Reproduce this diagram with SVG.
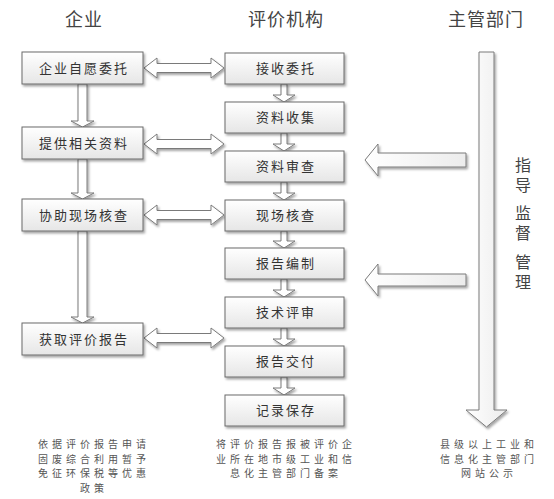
<svg xmlns="http://www.w3.org/2000/svg" width="554" height="499" viewBox="0 0 554 499">
<defs>
<linearGradient id="boxg" x1="0" y1="0" x2="0" y2="1">
<stop offset="0" stop-color="#ffffff"/>
<stop offset="1" stop-color="#e6e6e6"/>
</linearGradient>
<linearGradient id="arrg" x1="0" y1="0" x2="1" y2="0">
<stop offset="0" stop-color="#ffffff"/>
<stop offset="1" stop-color="#ececec"/>
</linearGradient>
<filter id="sh" x="-10%" y="-10%" width="130%" height="140%">
<feDropShadow dx="1.5" dy="2" stdDeviation="1.2" flood-color="#000" flood-opacity="0.35"/>
</filter>
</defs>
<style>
.box{fill:url(#boxg);stroke:#6a6a6a;stroke-width:1;filter:url(#sh)}
.arr{fill:#ffffff;stroke:#7a7a7a;stroke-width:1;filter:url(#sh)}
.big{fill:url(#arrg);stroke:#7a7a7a;stroke-width:1;filter:url(#sh)}
.t{font-family:"Noto Sans CJK SC","Noto Sans CJK JP",sans-serif;fill:#333;text-anchor:middle}
.bt{font-size:13px;letter-spacing:2px}
.hd{font-size:18px;letter-spacing:1px;fill:#444}
.vt{font-size:16px;fill:#444;writing-mode:vertical-rl;text-anchor:start;letter-spacing:3.5px}
.nt{font-size:10px;letter-spacing:4px;fill:#555}
</style>
<rect width="554" height="499" fill="#ffffff"/>

<g id="headers">
<text class="t hd" x="84" y="26">企业</text>
<text class="t hd" x="286" y="26">评价机构</text>
<text class="t hd" x="486" y="26">主管部门</text>
</g>

<g id="connectors">
<!-- left column down arrows -->
<polygon class="arr" points="78,84 78,121 71,121 82.5,127 94,121 87,121 87,84"/>
<polygon class="arr" points="78,159 78,193 71,193 82.5,199 94,193 87,193 87,159"/>
<polygon class="arr" points="78,231 78,317 71,317 82.5,323 94,317 87,317 87,231"/>
<!-- middle column down arrows -->
<polygon class="arr" points="281,84 281,95 273,95 284,102 295,95 287,95 287,84"/>
<polygon class="arr" points="281,133 281,144 273,144 284,151 295,144 287,144 287,133"/>
<polygon class="arr" points="281,182 281,193 273,193 284,200 295,193 287,193 287,182"/>
<polygon class="arr" points="281,231 281,241 273,241 284,248 295,241 287,241 287,231"/>
<polygon class="arr" points="281,279 281,290 273,290 284,297 295,290 287,290 287,279"/>
<polygon class="arr" points="281,328 281,339 273,339 284,346 295,339 287,339 287,328"/>
<polygon class="arr" points="281,377 281,388 273,388 284,395 295,388 287,388 287,377"/>
<!-- double arrows -->
<polygon class="arr" points="144,68 157,58 157,63.5 211,63.5 211,58 224,68 211,78 211,72.5 157,72.5 157,78"/>
<polygon class="arr" points="144,144 157,134 157,139.5 211,139.5 211,134 224,144 211,154 211,148.5 157,148.5 157,154"/>
<polygon class="arr" points="144,215 157,205 157,210.5 211,210.5 211,205 224,215 211,225 211,219.5 157,219.5 157,225"/>
<polygon class="arr" points="144,338 157,328 157,333.5 211,333.5 211,328 224,338 211,348 211,342.5 157,342.5 157,348"/>
<!-- big vertical arrow -->
<polygon class="big" points="479,52 494,52 494,410 507,410 486.5,427 466,410 479,410"/>
<!-- left-pointing arrows -->
<polygon class="big" points="365,160 378,144 378,153 466,153 466,167 378,167 378,176"/>
<polygon class="big" points="365,280 378,264 378,274 466,274 466,286 378,286 378,296"/>
</g>

<g id="n1"><rect class="box" x="22" y="52" width="121" height="32"/><text class="t bt" x="84" y="73">企业自愿委托</text></g>
<g id="n2"><rect class="box" x="22" y="127" width="121" height="32"/><text class="t bt" x="84" y="148">提供相关资料</text></g>
<g id="n3"><rect class="box" x="22" y="199" width="121" height="32"/><text class="t bt" x="84" y="220">协助现场核查</text></g>
<g id="n4"><rect class="box" x="22" y="323" width="121" height="32"/><text class="t bt" x="84" y="344">获取评价报告</text></g>

<g id="m1"><rect class="box" x="225" y="53" width="119" height="31"/><text class="t bt" x="286" y="73">接收委托</text></g>
<g id="m2"><rect class="box" x="225" y="102" width="119" height="31"/><text class="t bt" x="286" y="122">资料收集</text></g>
<g id="m3"><rect class="box" x="225" y="151" width="119" height="31"/><text class="t bt" x="286" y="171">资料审查</text></g>
<g id="m4"><rect class="box" x="225" y="200" width="119" height="31"/><text class="t bt" x="286" y="220">现场核查</text></g>
<g id="m5"><rect class="box" x="225" y="248" width="119" height="31"/><text class="t bt" x="286" y="268">报告编制</text></g>
<g id="m6"><rect class="box" x="225" y="297" width="119" height="31"/><text class="t bt" x="286" y="317">技术评审</text></g>
<g id="m7"><rect class="box" x="225" y="346" width="119" height="31"/><text class="t bt" x="286" y="366">报告交付</text></g>
<g id="m8"><rect class="box" x="225" y="395" width="119" height="31"/><text class="t bt" x="286" y="415">记录保存</text></g>

<g id="vlabel">
<text class="t vt" x="523" y="157">指导</text>
<text class="t vt" x="523" y="205">监督</text>
<text class="t vt" x="523" y="254">管理</text>
</g>

<g id="notes">
<text class="t nt" x="94" y="448">依据评价报告申请</text>
<text class="t nt" x="94" y="462.5">固废综合利用暂予</text>
<text class="t nt" x="94" y="477">免征环保税等优惠</text>
<text class="t nt" x="94" y="492">政策</text>
<text class="t nt" x="286" y="448">将评价报告报被评价企</text>
<text class="t nt" x="286" y="462.5">业所在地市级工业和信</text>
<text class="t nt" x="286" y="477">息化主管部门备案</text>
<text class="t nt" x="489" y="448">县级以上工业和</text>
<text class="t nt" x="489" y="462.5">信息化主管部门</text>
<text class="t nt" x="489" y="477">网站公示</text>
</g>
</svg>
